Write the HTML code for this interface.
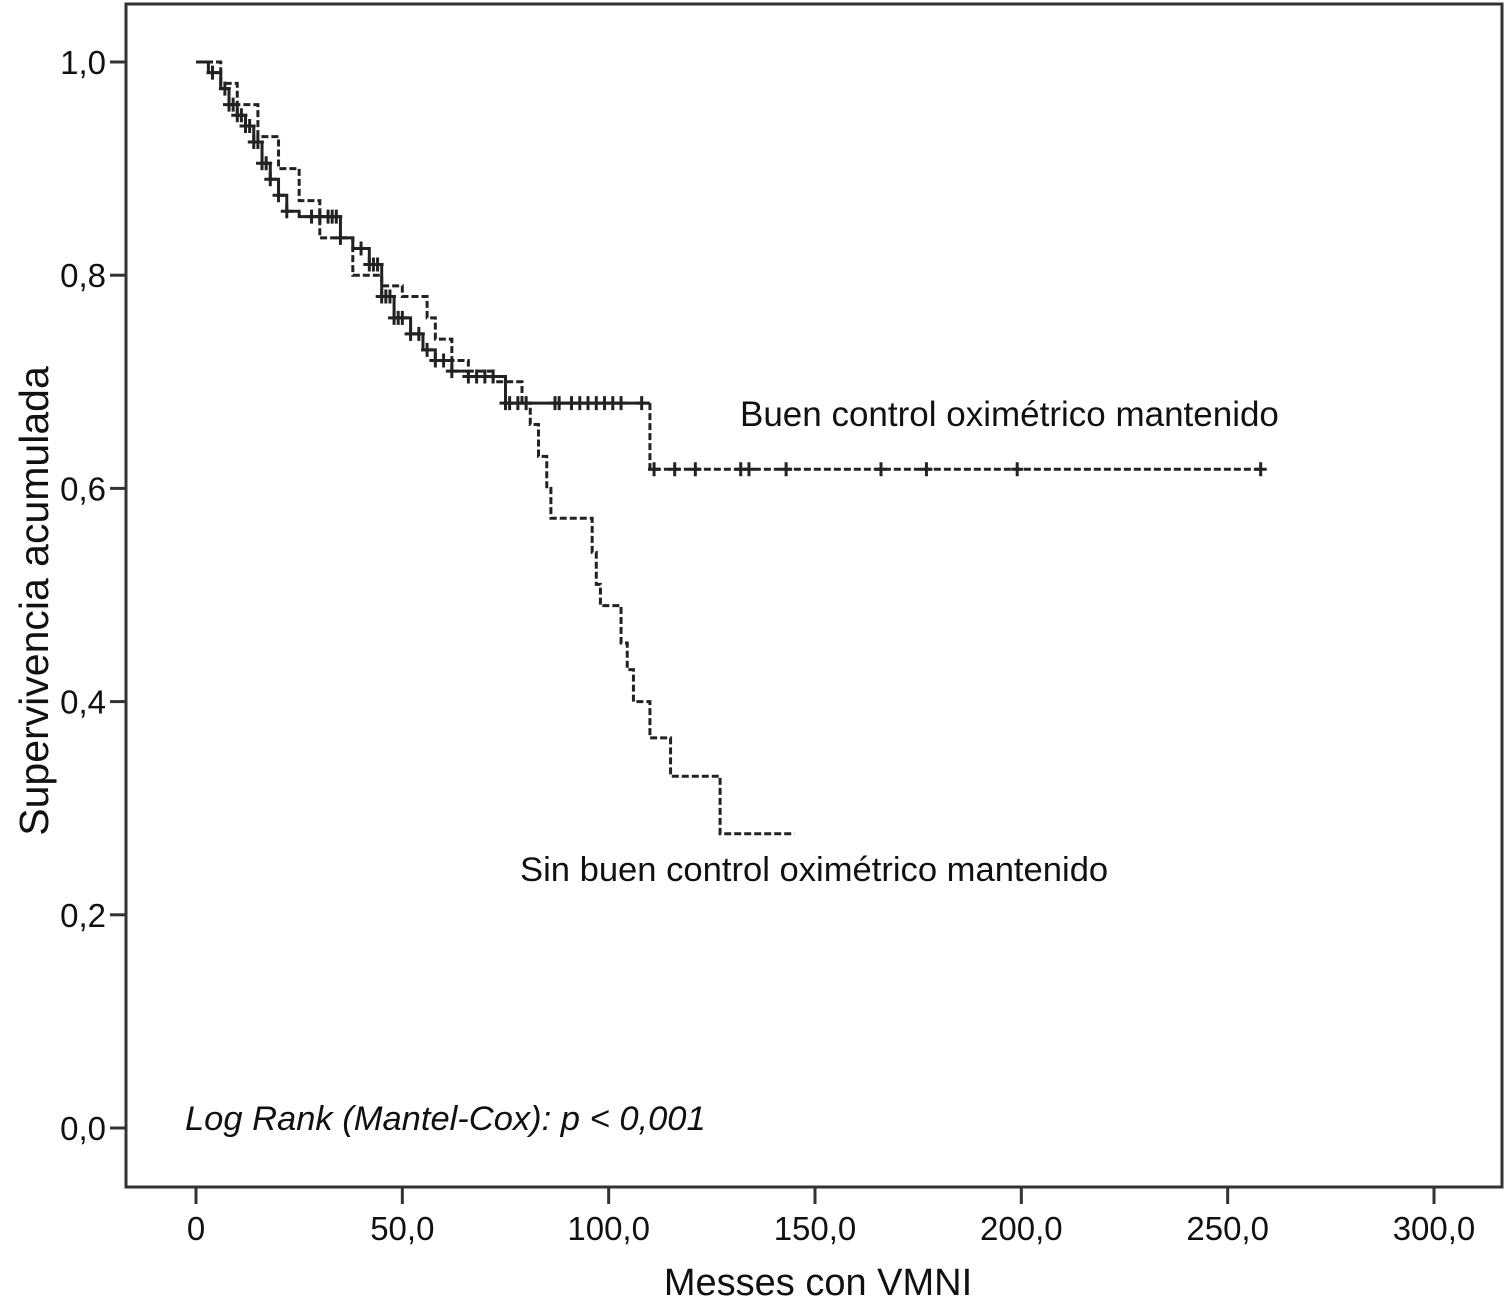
<!DOCTYPE html>
<html><head><meta charset="utf-8"><style>
html,body{margin:0;padding:0;background:#fff;}
svg{display:block;font-family:"Liberation Sans",sans-serif;}
</style></head><body>
<svg id="chart" width="1509" height="1303" viewBox="0 0 1509 1303" xmlns="http://www.w3.org/2000/svg">
<rect x="126" y="4" width="1376" height="1183" fill="none" stroke="#333" stroke-width="3"/>
<g id="axes"></g>
<g id="series"></g>
<text x="818" y="1295" font-size="38" text-anchor="middle" fill="#111">Messes con VMNI</text>
<text transform="translate(48,601) rotate(-90)" font-size="41" text-anchor="middle" fill="#111">Supervivencia acumulada</text>
<text x="740" y="426" font-size="35" fill="#111">Buen control oximétrico mantenido</text>
<text x="520" y="881" font-size="34.6" fill="#111">Sin buen control oximétrico mantenido</text>
<text x="185" y="1130" font-size="34.5" font-style="italic" fill="#111">Log Rank (Mantel-Cox): p &lt; 0,001</text>
</svg>
<script>
const xTicks=[0,50,100,150,200,250,300];
const xTickLabels=["0","50,0","100,0","150,0","200,0","250,0","300,0"];
const yTicks=[0,0.2,0.4,0.6,0.8,1.0];
const yTickLabels=["0,0","0,2","0,4","0,6","0,8","1,0"];
const goodTimes=[0,3,6,8,10,12,14,16,18,20,22,25,35,38,42,45,48,52,55,58,62,66,75,110];
const goodSurv=[1,0.99,0.975,0.96,0.95,0.94,0.925,0.905,0.89,0.875,0.86,0.855,0.835,0.825,0.81,0.78,0.76,0.745,0.73,0.72,0.71,0.705,0.68,0.618];
const goodEnd=258;
const goodCensor=[4,7,8,9,10,11,12,13,14,15,16,17,18,20,22,28,30,32,33,34,35,40,42,43,44,45,46,47,48,49,50,52,54,56,58,60,62,66,68,70,72,75,76,78,80,87,88,91,93,95,97,99,101,103,108,111,116,121,132,134,143,166,177,199,258];
const badTimes=[0,6,10,15,20,25,30,38,45,50,56,58,62,66,72,79,81,83,85,86,96,97,98,103,104.5,106,110,115,127];
const badSurv=[1,0.98,0.96,0.93,0.9,0.87,0.835,0.80,0.79,0.78,0.76,0.74,0.72,0.71,0.70,0.68,0.66,0.63,0.60,0.572,0.54,0.51,0.49,0.455,0.43,0.40,0.366,0.33,0.276];
const badEnd=145;

const NS='http://www.w3.org/2000/svg';
function X(t){return 196+t*(1434-196)/300;}
function Y(s){return 1128-s*1066;}
const axes=document.getElementById('axes');
const series=document.getElementById('series');
function mk(tag,attrs,parent){const e=document.createElementNS(NS,tag);for(const k in attrs)e.setAttribute(k,attrs[k]);parent.appendChild(e);return e;}
xTicks.forEach((t,i)=>{
  const l=mk('line',{x1:X(t),x2:X(t),y1:1188,y2:1204,stroke:'#333','stroke-width':3},axes);
  
  
  const tx=mk('text',{x:X(t),y:1240,'font-size':33,'text-anchor':'middle',fill:'#111'},axes);
  tx.textContent=xTickLabels[i];
  
  
});
yTicks.forEach((s,i)=>{
  const l=mk('line',{x1:110,x2:126,y1:Y(s),y2:Y(s),stroke:'#333','stroke-width':3},axes);
  
  
  const tx=mk('text',{x:106,y:Y(s)+12,'font-size':33,'text-anchor':'end',fill:'#111'},axes);
  tx.textContent=yTickLabels[i];
  
  
});
function stepPath(times,surv,end,from,to){
  let d='M'+X(times[from])+','+Y(surv[from]);
  for(let i=from+1;i<to;i++){d+=' H'+X(times[i])+' V'+Y(surv[i]);}
  d+=' H'+X(end);return d;
}
function survAt(times,surv,t){let s=surv[0];for(let i=0;i<times.length;i++){if(times[i]<=t)s=surv[i];}return s;}
const bp=mk('path',{d:stepPath(badTimes,badSurv,badEnd,0,badTimes.length),fill:'none',stroke:'#222','stroke-width':3,'stroke-dasharray':'7,3'},series);


const nG=goodTimes.length;
const gp=mk('path',{d:stepPath(goodTimes,goodSurv,goodTimes[nG-1],0,nG-1),fill:'none',stroke:'#222','stroke-width':3},series);


const gp2=mk('path',{d:'M'+X(goodTimes[nG-1])+','+Y(goodSurv[nG-2])+' V'+Y(goodSurv[nG-1])+' H'+X(goodEnd),fill:'none',stroke:'#222','stroke-width':3,'stroke-dasharray':'7,3'},series);


goodCensor.forEach(t=>{
  const x=X(t),y=Y(survAt(goodTimes,goodSurv,t));
  const c=mk('path',{d:'M'+(x-6)+','+y+' H'+(x+6)+' M'+x+','+(y-7)+' V'+(y+7),stroke:'#222','stroke-width':3},series);
  
  
});
</script>
</body></html>
